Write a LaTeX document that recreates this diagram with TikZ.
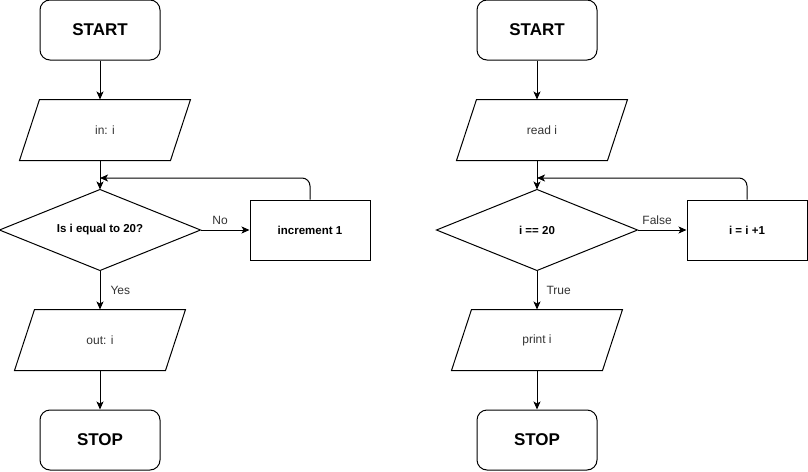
\documentclass[tikz,border=0pt]{standalone}
\usepackage{fontspec}
\setmainfont{Liberation Sans}
\usetikzlibrary{arrows.meta}
\definecolor{txt}{HTML}{333333}
\begin{document}
\begin{tikzpicture}[x=1pt,y=-1pt,line width=1pt,
  term/.style={draw,rounded corners=10pt,minimum width=120pt,minimum height=60pt,inner sep=0pt,font=\fontsize{17}{20}\selectfont\bfseries},
  iobox/.style={minimum width=170pt,minimum height=60pt,inner sep=0pt,font=\fontsize{12}{14}\selectfont,text=txt},
  decbox/.style={minimum width=200pt,minimum height=80pt,inner sep=0pt,font=\fontsize{11.5}{14}\selectfont\bfseries},
  procbox/.style={draw,minimum width=120pt,minimum height=60pt,inner sep=0pt,font=\fontsize{11.5}{14}\selectfont\bfseries},
  lbl/.style={font=\fontsize{12}{14}\selectfont,text=txt,inner sep=0pt},
  arr/.style={-{Stealth[length=8pt,width=7pt,inset=2pt]}},
]
\useasboundingbox (0,0) rectangle (808,471);
% left chart
\node[term] (s1) at (100,30) {START};
\node[iobox] (p1) at (105,130) {in: i};
\draw (p1.north west)++(20,0) -- (p1.north east) -- ([xshift=-20pt]p1.south east) -- (p1.south west) -- cycle;
\node[decbox] (d1) at (100,230) {Is i equal to 20?};
\draw (d1.north) -- (d1.east) -- (d1.south) -- (d1.west) -- cycle;
\node[procbox] (b1) at (310,230) {increment 1};
\node[iobox] (o1) at (100,340) {out: i};
\draw (o1.north west)++(20,0) -- (o1.north east) -- ([xshift=-20pt]o1.south east) -- (o1.south west) -- cycle;
\node[term] (e1) at (100,440) {STOP};
\coordinate (j1) at (100,178);
\draw[arr] (s1.south) -- (s1.south |- p1.north);
\draw[arr] (s1.south |- p1.south) -- (d1.north);
\draw[arr] (d1.east) -- node[lbl,above=5pt,pos=0.4] (n1) {No} (b1.west);
\draw[arr] (d1.south) -- node[lbl,right=10pt,pos=0.5] (y1) {Yes} (o1.north);
\draw[arr] (o1.south) -- (e1.north);
\draw[arr,rounded corners=8pt] (b1.north) |- (j1);
% right chart
\node[term] (s2) at (537,30) {START};
\node[iobox] (p2) at (542,130) {read i};
\draw (p2.north west)++(20,0) -- (p2.north east) -- ([xshift=-20pt]p2.south east) -- (p2.south west) -- cycle;
\node[decbox] (d2) at (537,230) {i == 20};
\draw (d2.north) -- (d2.east) -- (d2.south) -- (d2.west) -- cycle;
\node[procbox] (b2) at (747,230) {i = i +1};
\node[iobox] (o2) at (537,340) {print i};
\draw (o2.north west)++(20,0) -- (o2.north east) -- ([xshift=-20pt]o2.south east) -- (o2.south west) -- cycle;
\node[term] (e2) at (537,440) {STOP};
\coordinate (j2) at (537,178);
\draw[arr] (s2.south) -- (s2.south |- p2.north);
\draw[arr] (s2.south |- p2.south) -- (d2.north);
\draw[arr] (d2.east) -- node[lbl,above=5pt,pos=0.4] (n2) {False} (b2.west);
\draw[arr] (d2.south) -- node[lbl,right=9pt,pos=0.5] (y2) {True} (o2.north);
\draw[arr] (o2.south) -- (e2.north);
\draw[arr,rounded corners=8pt] (b2.north) |- (j2);
\end{tikzpicture}
\end{document}
